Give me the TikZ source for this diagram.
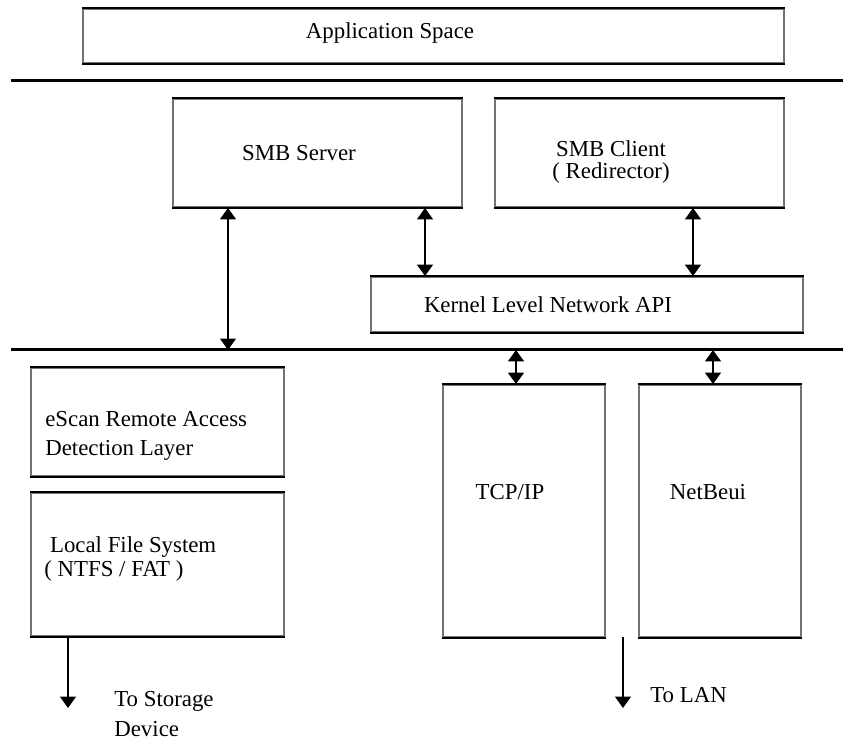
\documentclass[tikz,border=0pt]{standalone}
\usepackage{fontspec}
\setmainfont{Liberation Serif}
\usetikzlibrary{arrows.meta}

\begin{document}
\begin{tikzpicture}[x=0.02cm, y=-0.02cm,
    every node/.style={font=\fontsize{13}{14}\selectfont, inner sep=0pt},
    layer/.style={draw=black!55, line width=1.1pt, minimum width=#1},
    layer/.default=1,
    sep/.style={line width=1.7pt},
    link/.style={line width=1.1pt, {Triangle[width=9pt,length=6.5pt]}-{Triangle[width=9pt,length=6.5pt]}},
    outlink/.style={line width=1.1pt, -{Triangle[width=9pt,length=6.5pt]}}]
  \useasboundingbox (0,0) rectangle (843,742);

  % layer boxes
  \node[layer=701*0.02cm, minimum height=54*0.02cm] (app) at (433.5,36) {};
  \node[layer=289*0.02cm, minimum height=108*0.02cm] (srv) at (317.5,153) {};
  \node[layer=289*0.02cm, minimum height=108*0.02cm] (cli) at (639.5,153) {};
  \node[layer=432*0.02cm, minimum height=55*0.02cm] (api) at (587,304.5) {};
  \node[layer=253*0.02cm, minimum height=108*0.02cm] (escan) at (157.5,422) {};
  \node[layer=253*0.02cm, minimum height=143*0.02cm] (lfs) at (157.5,564.5) {};
  \node[layer=162*0.02cm, minimum height=252*0.02cm] (tcp) at (524,511) {};
  \node[layer=162*0.02cm, minimum height=252*0.02cm] (nbe) at (720,511) {};
  % black top and bottom edges
  \foreach \b in {app,srv,cli,api,escan,lfs,tcp,nbe} {
    \draw[line width=1.1pt] (\b.north west) -- (\b.north east);
    \draw[line width=1.1pt] (\b.south west) -- (\b.south east);
  }

  % user / kernel separators
  \coordinate (u0) at (11,81);
  \coordinate (u1) at (843,81);
  \coordinate (k0) at (11,350);
  \coordinate (k1) at (843,350);
  \draw[sep] (u0) -- (u1);
  \draw[sep] (k0) -- (k1);

  % labels
  \node at (390,33) {Application Space};
  \node at (299,153) {SMB Server};
  \node[align=center] at (611,162) {SMB Client\\[-1pt]( Redirector)};
  \node at (548,305) {Kernel Level Network API};
  \node[anchor=west, align=left] at (45,436) {eScan Remote Access\\[2.5pt]Detection Layer};
  \node[anchor=west, align=left] at (44,559) {\ Local File System\\( NTFS / FAT )};
  \node at (510,492) {TCP/IP};
  \node at (708,492) {NetBeui};

  % connectors
  \coordinate (d1) at (228,350);
  \coordinate (d2) at (425,0);
  \coordinate (d3) at (693,0);
  \coordinate (d4) at (516,350);
  \coordinate (d5) at (713,350);
  \draw[link] (srv.south -| d1) -- (d1);
  \draw[link] (srv.south -| d2) -- (api.north -| d2);
  \draw[link] (cli.south -| d3) -- (api.north -| d3);
  \draw[link] (d4) -- (tcp.north -| d4);
  \draw[link] (d5) -- (nbe.north -| d5);

  % outgoing paths
  \coordinate (st) at (68,708);
  \coordinate (lan0) at (623,637);
  \coordinate (lan) at (623,708);
  \draw[outlink] (lfs.south -| st) -- (st);
  \draw[outlink] (lan0) -- (lan);
  \node[anchor=west, align=left] at (114,714) {To Storage\\[3.5pt]Device};
  \node[anchor=west] at (650,695) {To LAN};
\end{tikzpicture}
\end{document}
